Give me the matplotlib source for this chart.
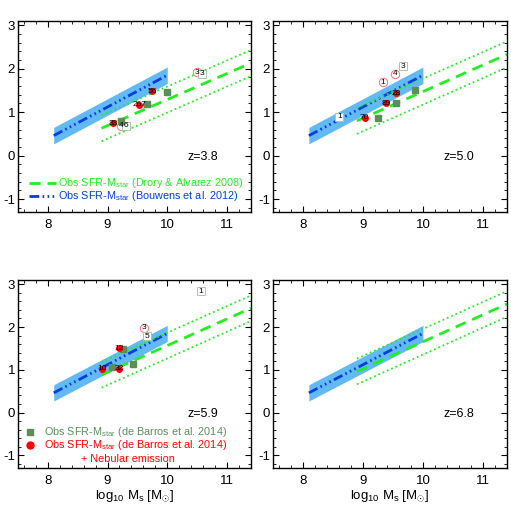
import numpy as np
import matplotlib
matplotlib.use('Agg')
import matplotlib.pyplot as plt
from matplotlib.ticker import MultipleLocator

plt.rcParams['font.family'] = ['Liberation Sans', 'DejaVu Sans']
plt.rcParams['mathtext.fontset'] = 'custom'
plt.rcParams['mathtext.rm'] = 'Liberation Sans'
plt.rcParams['mathtext.it'] = 'Liberation Sans'
plt.rcParams['axes.unicode_minus'] = False

# redshift panels
z_labels = ['z=3.8', 'z=5.0', 'z=5.9', 'z=6.8']

# Drory & Alvarez 2008 relation (start/end of line), +-0.3 scatter
drory_x = [8.9, 11.4]
drory_start = [0.63, 0.80, 0.88, 0.96]
drory_end = [2.13, 2.33, 2.44, 2.54]
drory_scatter = 0.3

# Bouwens et al. 2012 relation
bouwens_x = [8.1, 10.0]
bouwens_y = [0.46, 1.85]
bouwens_err = 0.19

# de Barros et al. 2014, with nebular emission (red filled)
red_x = [[9.09, 9.53, 9.75], [9.03, 9.39, 9.55], [8.91, 9.19, 9.20], []]
red_y = [[0.74, 1.17, 1.48], [0.87, 1.21, 1.44], [1.02, 1.02, 1.50], []]
red_lab = [['33', '267', '56'], ['70', '89', '28'], ['10', '32', '12'], []]

# de Barros et al. 2014, no nebular emission (green filled)
grn_x = [[9.23, 9.66, 9.99], [9.25, 9.56, 9.87], [9.07, 9.26, 9.43], []]
grn_y = [[0.79, 1.19, 1.47], [0.87, 1.21, 1.52], [1.07, 1.49, 1.14], []]

# single objects (open symbols)
ored_x = [[9.22, 10.49], [9.33, 9.53], [9.61], []]
ored_y = [[0.69, 1.92], [1.69, 1.89], [1.98], []]
ored_lab = [['4', '3'], ['1', '4'], ['3'], []]
ogrn_x = [[9.31, 10.58], [8.61, 9.67], [9.66, 10.56], []]
ogrn_y = [[0.69, 1.89], [0.90, 2.06], [1.79, 2.84], []]
ogrn_lab = [['6', '3'], ['1', '3'], ['5', '1'], []]

green = '#22ee22'
dgreen = '#5a8f5a'
blue = '#0040e0'
band = '#62b9f4'

fig = plt.figure(figsize=(5.11, 5.11), dpi=100)
pos = [[0.035, 0.585, 0.456, 0.374], [0.534, 0.585, 0.458, 0.374],
       [0.035, 0.084, 0.456, 0.368], [0.534, 0.084, 0.458, 0.368]]

bdash = (0, (3.5, 1.2, 0.6, 1.2, 0.6, 1.2, 0.6, 1.2))

for i in range(4):
    ax = fig.add_axes(pos[i])
    ax.set_xlim(7.5, 11.4)
    ax.set_ylim(-1.3, 3.1)

    bx = np.array(bouwens_x)
    by = np.array(bouwens_y)
    ax.fill_between(bx, by - bouwens_err, by + bouwens_err, color=band, lw=0)
    ax.plot(bx, by, color=blue, lw=2.0, linestyle=bdash)

    dy = np.array([drory_start[i], drory_end[i]])
    ax.plot(drory_x, dy, color=green, lw=2.0, linestyle=(0, (4, 2.5)))
    ax.plot(drory_x, dy + drory_scatter, color=green, lw=1.3, linestyle=(0, (1, 1.6)))
    ax.plot(drory_x, dy - drory_scatter, color=green, lw=1.3, linestyle=(0, (1, 1.6)))

    ax.plot(ored_x[i], ored_y[i], 'o', ms=6, mfc='white', mec='#ff7070', mew=0.7, ls='none')
    ax.plot(ogrn_x[i], ogrn_y[i], 's', ms=6, mfc='white', mec='#a8c8a8', mew=0.7, ls='none')
    for x, y, t in zip(ored_x[i], ored_y[i], ored_lab[i]):
        ax.text(x, y, t, fontsize=6, ha='center', va='center')
    for x, y, t in zip(ogrn_x[i], ogrn_y[i], ogrn_lab[i]):
        ax.text(x, y, t, fontsize=6, ha='center', va='center')

    ax.plot(grn_x[i], grn_y[i], 's', ms=5, color=dgreen, ls='none')
    ax.plot(red_x[i], red_y[i], 'o', ms=4, color='red', ls='none')
    for x, y, t in zip(red_x[i], red_y[i], red_lab[i]):
        ax.text(x, y, t, fontsize=6, ha='center', va='center')

    ax.text(0.73, 0.288, z_labels[i], transform=ax.transAxes, fontsize=9, va='center')

    ax.xaxis.set_major_locator(MultipleLocator(1))
    ax.xaxis.set_minor_locator(MultipleLocator(0.2))
    ax.yaxis.set_major_locator(MultipleLocator(1))
    ax.yaxis.set_minor_locator(MultipleLocator(0.2))
    ax.tick_params(which='both', direction='in', top=True, right=True, labelsize=9.5)
    ax.tick_params(which='major', length=4, width=0.8)
    ax.tick_params(which='minor', length=2, width=0.6)
    ax.tick_params(axis='x', pad=5)
    ax.tick_params(axis='y', pad=2)
    for s in ax.spines.values():
        s.set_linewidth(1.0)

    if i >= 2:
        ax.set_xlabel(r'log$_{10}$ M$_{\rm s}$ [M$_{\odot}$]', fontsize=9.5, labelpad=1)

    if i == 0:
        ax.plot([0.047, 0.162], [0.152, 0.152], transform=ax.transAxes,
                color=green, lw=2.0, linestyle=(0, (4, 2.5)))
        ax.plot([0.047, 0.162], [0.086, 0.086], transform=ax.transAxes,
                color=blue, lw=2.0, linestyle=bdash)
        ax.text(0.171, 0.152, r'Obs SFR-M$_{\rm star}$ (Drory & Alvarez 2008)',
                transform=ax.transAxes, color=green, fontsize=7.8, va='center')
        ax.text(0.171, 0.086, r'Obs SFR-M$_{\rm star}$ (Bouwens et al. 2012)',
                transform=ax.transAxes, color=blue, fontsize=7.8, va='center')
    if i == 2:
        ax.plot([0.051], [0.193], 's', ms=5, color=dgreen, transform=ax.transAxes)
        ax.plot([0.051], [0.122], 'o', ms=5, color='red', transform=ax.transAxes)
        ax.text(0.111, 0.193, r'Obs SFR-M$_{\rm star}$ (de Barros et al. 2014)',
                transform=ax.transAxes, color=dgreen, fontsize=7.8, va='center')
        ax.text(0.111, 0.122, r'Obs SFR-M$_{\rm star}$ (de Barros et al. 2014)',
                transform=ax.transAxes, color='red', fontsize=7.8, va='center')
        ax.text(0.269, 0.050, '+ Nebular emission',
                transform=ax.transAxes, color='red', fontsize=7.8, va='center')

fig.savefig('out.png', dpi=100)
